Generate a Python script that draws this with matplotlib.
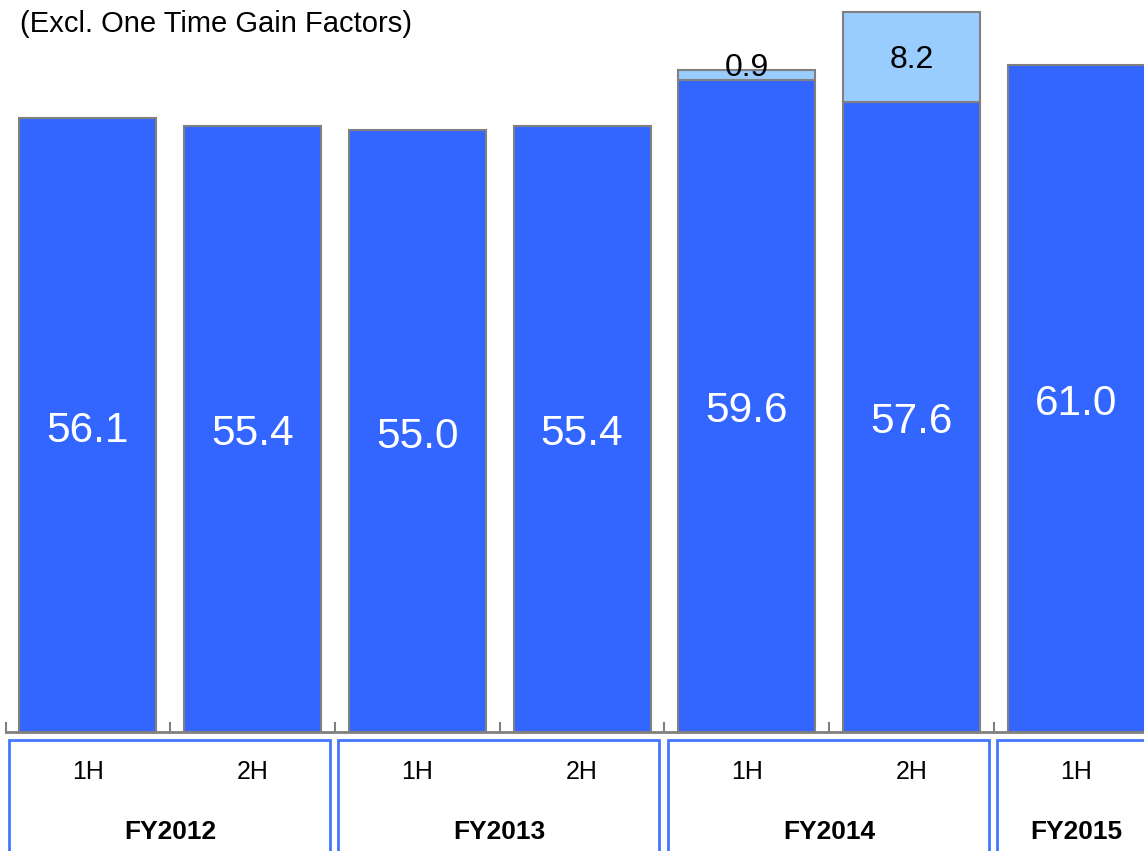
import numpy as np
import matplotlib.pyplot as plt
import matplotlib.patches as mpatches

plt.rcParams['font.family'] = ['Liberation Sans', 'DejaVu Sans']

# data
halves = ["1H", "2H", "1H", "2H", "1H", "2H", "1H"]
years = ["FY2012", "FY2013", "FY2014", "FY2015"]
year_span = [2, 2, 2, 1]          # number of halves per year
base = [56.1, 55.4, 55.0, 55.4, 59.6, 57.6, 61.0]
gain = [0.0, 0.0, 0.0, 0.0, 0.9, 8.2, 0.0]
title = "(Excl. One Time Gain Factors)"

dark = "#3366FF"
light = "#99CCFF"
edge = "#808080"

fig = plt.figure(figsize=(11.44, 8.51), dpi=100)
ax = fig.add_axes([0, 0, 1, 1])
ax.set_xlim(-0.534, 6.412)
ax.set_ylim(-10.88, 66.9)
ax.axis("off")

x = np.arange(len(base))
w = 0.832
ax.bar(x, base, w, color=dark, edgecolor=edge, linewidth=1.5, zorder=2)
g = np.array(gain)
ax.bar(x[g > 0], g[g > 0], w, bottom=np.array(base)[g > 0],
       color=light, edgecolor=edge, linewidth=1.5, zorder=2)

# value labels
for xi, b, gi in zip(x, base, gain):
    ax.text(xi, b / 2 - 0.5, f"{b:.1f}", color="white", fontsize=30.5,
            ha="center", va="center", zorder=3)
    if gi > 0:
        yl = b + gi / 2 if gi > 2 else b + gi + 0.5
        ax.text(xi, yl - 0.3, f"{gi:.1f}", color="black", fontsize=23,
                ha="center", va="center", zorder=3)

# category axis line and ticks
ax.plot([-0.497, 6.5], [0, 0], color=edge, lw=2, zorder=4, clip_on=False)
for t in np.arange(-0.5, 6.6, 1.0):
    ax.plot([t, t], [0, 0.8], color=edge, lw=1.5, zorder=4)

# half-year labels
for xi, h in zip(x, halves):
    ax.text(xi, -3.7, h, fontsize=18, ha="center", va="center")

# fiscal-year boxes
start = 0
for yr, n in zip(years, year_span):
    x0 = start - 0.48
    x1 = start + n - 1 + 0.47
    if n == 1:
        x1 = 7.0
    ax.add_patch(mpatches.Rectangle((x0, -13), x1 - x0, 12.3,
                                    fill=False, edgecolor="#4477FF",
                                    lw=2, clip_on=True))
    cx = start + (n - 1) / 2
    ax.text(cx, -9.1, yr, fontsize=19, fontweight="bold",
            ha="center", va="center")
    start += n

fig.text(20 / 1144, 1 - 24 / 851, title, fontsize=21,
         ha="left", va="center")

fig.savefig("out.png", dpi=100)
